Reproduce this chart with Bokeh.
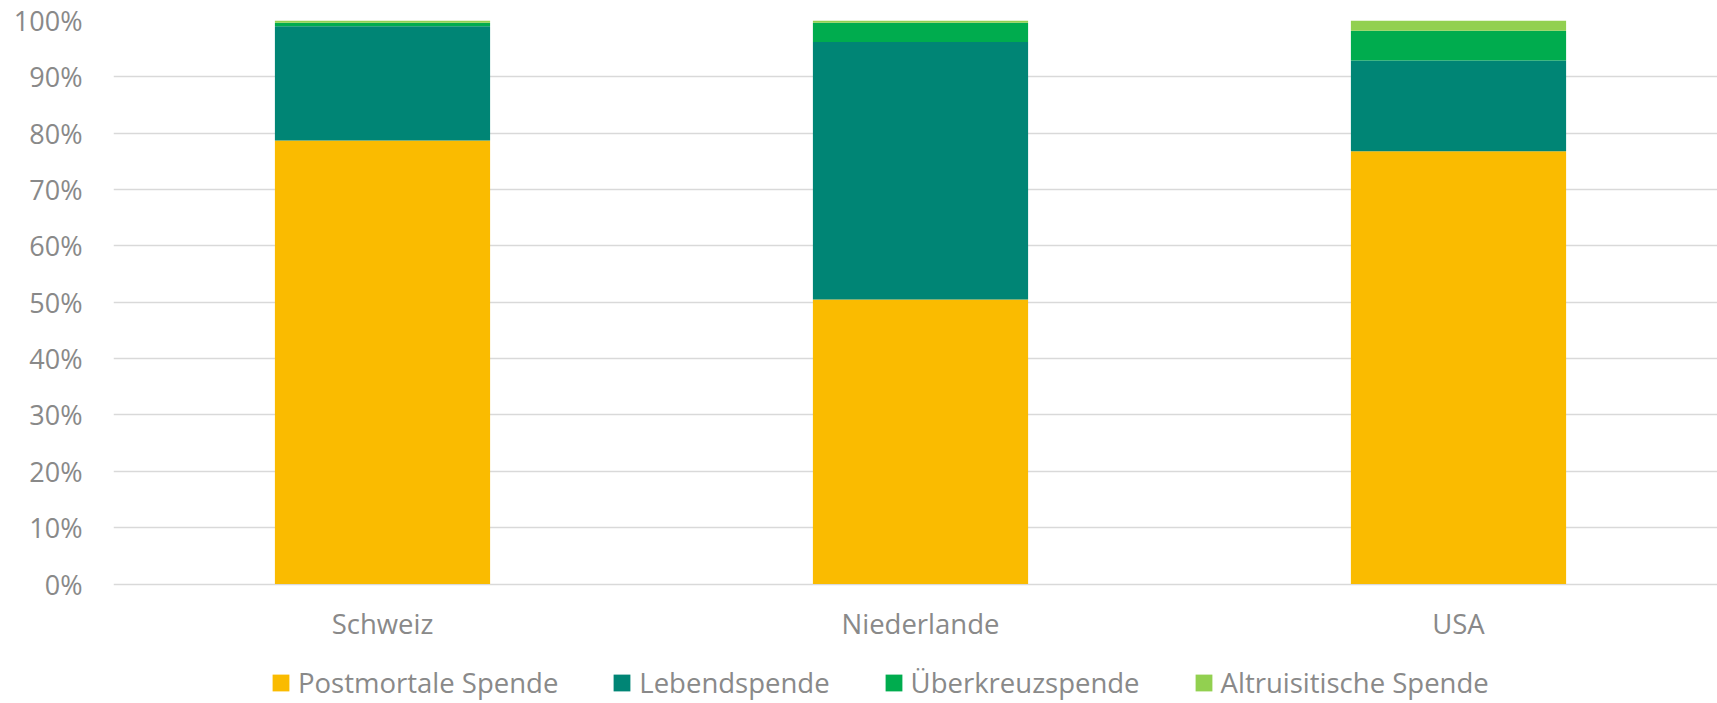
from bokeh.plotting import figure
from bokeh.models import ColumnDataSource, FixedTicker, NumeralTickFormatter, Legend, LegendItem, Range1d
from bokeh.embed import file_html
from bokeh.resources import INLINE

countries = ["Schweiz", "Niederlande", "USA"]
series = ["Postmortale Spende", "Lebendspende", "Überkreuzspende", "Altruisitische Spende"]
postmortal = [0.787, 0.505, 0.768]
lebend = [0.203, 0.457, 0.161]
ueberkreuz = [0.006, 0.034, 0.053]
altruist = [0.004, 0.004, 0.018]
colors = ["#FABB00", "#008575", "#00AC4E", "#92D050"]

xpos = [i + 0.5 for i in range(len(countries))]
source = ColumnDataSource(dict(x=xpos, s0=postmortal, s1=lebend, s2=ueberkreuz, s3=altruist))

FONT = "Open Sans"
GREY = "#898989"

# frame: top at 20px, 0% at 583.5px, bottom of figure at 703px
p = figure(width=1717, height=703, output_backend="svg", toolbar_location=None,
           x_range=Range1d(0, 1604 / 538), y_range=Range1d(-119.5 / 563.5, 1))
p.min_border_left = 113
p.min_border_right = 0
p.min_border_top = 20
p.min_border_bottom = 0
p.outline_line_color = None
p.background_fill_color = "white"
p.border_fill_color = "white"

renderers = p.vbar_stack(["s0", "s1", "s2", "s3"], x="x", width=0.4, color=colors,
                         line_color=None, source=source)

ticks = [i / 10 for i in range(11)]
p.xgrid.visible = False
p.ygrid.grid_line_color = "#D9D9D9"
p.ygrid.grid_line_width = 1.3
p.ygrid.ticker = FixedTicker(ticks=ticks)

p.yaxis.ticker = FixedTicker(ticks=ticks)
p.yaxis.formatter = NumeralTickFormatter(format="0%")
p.yaxis.axis_line_color = None
p.yaxis.major_tick_line_color = None
p.yaxis.minor_tick_line_color = None
p.yaxis.major_tick_out = 0
p.yaxis.major_tick_in = 0
p.yaxis.major_label_standoff = 31
p.yaxis.major_label_text_font = FONT
p.yaxis.major_label_text_font_size = "27px"
p.yaxis.major_label_text_color = GREY

p.xaxis.fixed_location = 0
p.xaxis.ticker = FixedTicker(ticks=xpos)
p.xaxis.major_label_overrides = {x: c for x, c in zip(xpos, countries)}
p.xaxis.axis_line_color = None
p.xaxis.major_tick_line_color = None
p.xaxis.minor_tick_line_color = None
p.xaxis.major_tick_out = 0
p.xaxis.major_tick_in = 0
p.xaxis.major_label_standoff = 21
p.xaxis.major_label_text_font = FONT
p.xaxis.major_label_text_font_size = "27.5px"
p.xaxis.major_label_text_color = GREY

legend = Legend(items=[LegendItem(label=s, renderers=[r]) for s, r in zip(series, renderers)],
                orientation="horizontal", location=(157, 2))
legend.label_text_font = FONT
legend.label_text_font_size = "27.5px"
legend.label_text_color = GREY
legend.glyph_width = 21
legend.glyph_height = 21
legend.label_height = 21
legend.label_standoff = 7
legend.spacing = 53
legend.padding = 0
legend.margin = 0
legend.border_line_color = None
legend.background_fill_alpha = 0
p.add_layout(legend, "center")

open("out.html", "w").write(file_html(p, INLINE))
